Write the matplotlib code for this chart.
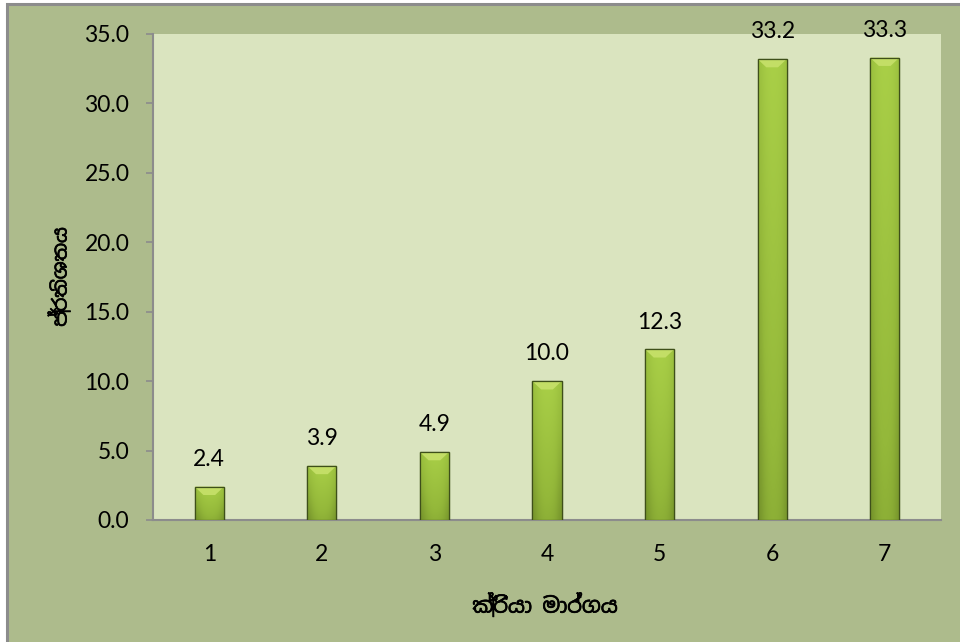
import matplotlib
matplotlib.use("Agg")
import matplotlib.pyplot as plt
import matplotlib.patheffects as pe
import numpy as np
from matplotlib.patches import Rectangle, Polygon
from matplotlib.colors import LinearSegmentedColormap

categories = ["1", "2", "3", "4", "5", "6", "7"]
values = [2.4, 3.9, 4.9, 10.0, 12.3, 33.2, 33.3]
value_labels = ["2.4", "3.9", "4.9", "10.0", "12.3", "33.2", "33.3"]
y_ticks = [0, 5, 10, 15, 20, 25, 30, 35]
y_tick_labels = ["0.0", "5.0", "10.0", "15.0", "20.0", "25.0", "30.0", "35.0"]
x_title = "ක්‍රියා මාර්ගය"
y_title = "ප්‍රතිශතය"

num_font = ["Lato", "DejaVu Sans"]
sin_font = ["Noto Sans Sinhala", "Noto Serif Sinhala", "Iskoola Pota", "Lato", "DejaVu Sans"]

W, H = 960, 642
fig = plt.figure(figsize=(W / 100, H / 100), dpi=100, facecolor="white")

# outer chart area with gray border (top/left visible)
fig.patches.append(Rectangle((7 / W, -0.05), 1.1, 1 - 4 / H + 0.05, transform=fig.transFigure,
                             facecolor="#ADBB8C", edgecolor="#8C8C8C", linewidth=2.2, zorder=-10))

ax = fig.add_axes([153 / W, 1 - 520 / H, (941 - 153) / W, (520 - 34) / H])
ax.set_zorder(1)
ax.set_facecolor("#DAE4BF")

x = np.arange(len(categories))
bars = ax.bar(x, values, width=0.26, facecolor="#94B83A", edgecolor="#46591F", linewidth=0.9, zorder=3)

# gradient fill for each bar
cmap = LinearSegmentedColormap.from_list("g", ["#6F8C28", "#94B83A", "#A9CF47"])
hgrad = np.array([0.45, 0.75, 0.92, 1.0, 1.0, 0.95, 0.82, 0.5])
for b in bars:
    x0, y0 = b.get_x(), b.get_y()
    w, h = b.get_width(), b.get_height()
    vgrad = np.linspace(0.0, 1.0, 64)[:, None]
    img = vgrad * 0.5 + 0.5 * hgrad[None, :]
    im = ax.imshow(img, cmap=cmap, vmin=0.15, vmax=1.0, origin="lower", aspect="auto",
                   extent=(x0, x0 + w, y0, y0 + h), zorder=3.5, interpolation="bicubic")
    im.set_clip_path(b)
    # bevel at top
    bev = 0.6
    tri = Polygon([(x0, y0 + h), (x0 + w, y0 + h), (x0 + w * 0.7, y0 + h - bev),
                   (x0 + w * 0.3, y0 + h - bev)], closed=True,
                  facecolor="#C3DE66", edgecolor="none", zorder=3.6)
    ax.add_patch(tri)
    ob = Rectangle((x0, y0), w, h, facecolor="none", edgecolor="#3E4F1A", linewidth=0.9, zorder=3.7)
    ax.add_patch(ob)

for xi, v, lab in zip(x, values, value_labels):
    ax.annotate(lab, (xi, v), xytext=(0, 12), textcoords="offset points",
                ha="center", va="bottom", fontsize=16.5, family=num_font, color="black",
                annotation_clip=False)

ax.set_xlim(-0.5, len(categories) - 0.5)
ax.set_ylim(0, 35)
ax.set_xticks(x)
ax.set_xticklabels(categories, family=num_font, fontsize=16.5)
ax.set_yticks(y_ticks)
ax.set_yticklabels(y_tick_labels, family=num_font, fontsize=16.5)
ax.tick_params(axis="x", length=0, pad=17)
ax.tick_params(axis="y", length=5, width=1.2, color="#8C8C8C", pad=12)

for s in ["top", "right"]:
    ax.spines[s].set_visible(False)
ax.spines["left"].set_color("#8C8C8C")
ax.spines["bottom"].set_color("#8C8C8C")
ax.spines["left"].set_linewidth(1.5)
ax.spines["bottom"].set_linewidth(1.5)

bold = [pe.withStroke(linewidth=0.5, foreground="black")]
fig.text(545 / W, 1 - 605 / H, x_title, ha="center", va="center", fontsize=15,
         fontweight="bold", family=sin_font, path_effects=bold)
fig.text(60 / W, 1 - 277 / H, y_title, ha="center", va="center", rotation=90, fontsize=14,
         fontweight="bold", family=sin_font, path_effects=bold)

fig.savefig("out.png", dpi=100, facecolor="white")
